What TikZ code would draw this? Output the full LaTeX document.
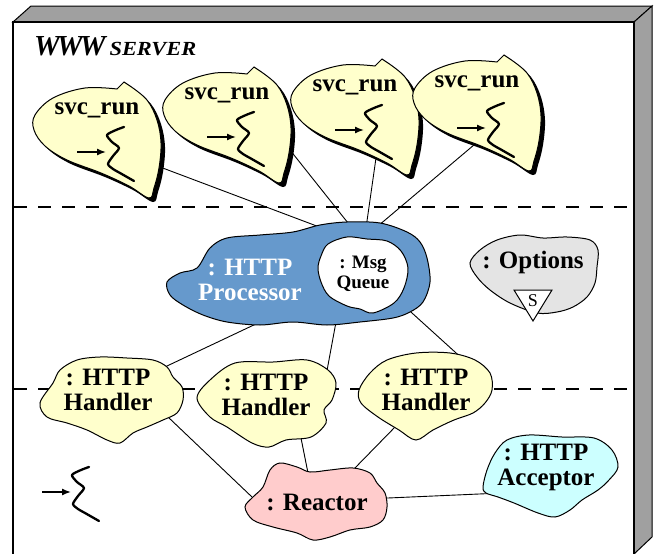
\documentclass[tikz,border=0pt]{standalone}
\usepackage{fontspec}
\setmainfont{Liberation Serif}
\usetikzlibrary{arrows.meta}
\definecolor{cyel}{HTML}{FFFFCC}
\definecolor{cblue}{HTML}{6699CC}
\definecolor{cpink}{HTML}{FFCCCC}
\definecolor{ccyan}{HTML}{CCFFFF}
\definecolor{cgray}{HTML}{E4E4E4}
\definecolor{cface}{HTML}{A0A0A0}
\newcommand\LeafOutline{plot[smooth,tension=0.6] coordinates {(33,-24) (50,-10) (60,10) (64,33) (62,58) (57,78) (52,88) (32,76) (4,63) (-30,50) (-52,36) (-63,20) (-62,5) (-44,-12) (-12,-22) (20,-21)} -- (27,-28) -- cycle}
\tikzset{
  lbl/.style={font=\bfseries\fontsize{25}{25}\selectfont, align=center, inner sep=0pt},
  smalllbl/.style={font=\bfseries\fontsize{19}{20}\selectfont, align=center, inner sep=0pt},
  blob/.style={draw=black, line width=1pt},
  conn/.style={draw=black, line width=0.9pt, shorten <=-8pt, shorten >=-8pt},
  sepline/.style={draw=black, line width=1.8pt, dash pattern=on 13pt off 11pt},
  leafpic/.pic={
    \fill[black, shift={(4,4)}] \LeafOutline;
    \filldraw[fill=cyel, draw=black, line width=1pt] \LeafOutline;
  },
  threadpic/.pic={
    \draw[line width=1.4pt, -{Latex[length=9pt,width=7pt]}] (0,0) -- (29,0);
    \draw[line width=2.3pt, line cap=round, line join=round] plot[smooth, tension=0.45] coordinates {(47,-25) (39,-22) (30,-17) (35,-10) (42,-4) (36,4) (31,12) (36,17) (43,21) (57,29)};
  }
}
\begin{document}
\begin{tikzpicture}[x=1pt,y=-1pt]
\useasboundingbox (0,0) rectangle (657,554);
\clip (0,0) rectangle (657,554);
% frame
\filldraw[fill=cface, draw=black, line width=1pt] (13,22) -- (31,6) -- (652,6) -- (634,22) -- cycle;
\filldraw[fill=cface, draw=black, line width=1pt] (634,22) -- (652,6) -- (652,537) -- (634,554) -- cycle;
\filldraw[fill=white, draw=black, line width=2pt] (13,22) rectangle (634,575);
% title
\node[anchor=base west, inner sep=0pt] (title) at (34,56) {\bfseries\itshape\fontsize{29}{29}\selectfont W\kern-3pt W\kern-3pt W\hspace{4pt}\fontsize{20}{20}\selectfont\scalebox{1.12}[1]{SERVER}};
% dashed separators
\coordinate (dl1) at (14,207); \coordinate (dr1) at (633,207);
\coordinate (dl2) at (14,389); \coordinate (dr2) at (633,389);
\draw[sepline] (dl1) -- (dr1);
\draw[sepline] (dl2) -- (dr2);
% connector ends
\coordinate (s1a) at (160,167); \coordinate (s1b) at (322,228);
\coordinate (s2a) at (290,150); \coordinate (s2b) at (352,228);
\coordinate (s3a) at (375,165); \coordinate (s3b) at (366,228);
\coordinate (s4a) at (468,150); \coordinate (s4b) at (378,226);
\coordinate (h1a) at (167,366); \coordinate (h1b) at (258,323);
\coordinate (h2a) at (326,376); \coordinate (h2b) at (336,322);
\coordinate (h3a) at (455,352); \coordinate (h3b) at (412,313);
\coordinate (r1a) at (168,417); \coordinate (r1b) at (252,497);
\coordinate (r2a) at (298,423); \coordinate (r2b) at (308,473);
\coordinate (r3a) at (397,425); \coordinate (r3b) at (353,470);
\coordinate (raa) at (388,498); \coordinate (rab) at (502,493);
\foreach \a/\b in {s1a/s1b,s2a/s2b,s3a/s3b,s4a/s4b,h1a/h1b,h2a/h2b,h3a/h3b,r1a/r1b,r2a/r2b,r3a/r3b,raa/rab}
  \draw[conn] (\a) -- (\b);
% svc_run clouds
\pic at (97,110) {leafpic};
\pic at (227,95) {leafpic};
\pic at (355,87) {leafpic};
\pic at (477,83) {leafpic};
\pic at (77,152) {threadpic};
\pic at (207,137) {threadpic};
\pic at (335,130) {threadpic};
\pic at (457,128) {threadpic};
\node[lbl] (svc1) at (97,110) {svc\_run};
\node[lbl] (svc2) at (227,95) {svc\_run};
\node[lbl] (svc3) at (355,87) {svc\_run};
\node[lbl] (svc4) at (477,83) {svc\_run};
% processor
\filldraw[blob, fill=cblue] plot[smooth cycle, tension=0.55] coordinates {(167,282) (180,273) (197,268) (210,248) (227,238) (260,235) (293,232) (320,225) (347,222) (380,223) (407,232) (420,242) (427,258) (430,282) (423,302) (410,312) (393,318) (360,322) (327,325) (293,322) (260,325) (227,322) (203,315) (183,305) (170,295)};
\filldraw[blob, fill=white] plot[smooth cycle, tension=0.55] coordinates {(321,256) (328,244) (347,237) (367,239) (387,241) (401,251) (408,268) (404,288) (394,303) (373,313) (360,309) (347,306) (329,296) (321,282) (318,268)};
\node[lbl, text=white] (proc) at (250,280) {: HTTP\\Processor};
\node[smalllbl] (msgq) at (363,274) {: Msg\\Queue};
% options
\filldraw[blob, fill=cgray] plot[smooth cycle, tension=0.55] coordinates {(470,263) (480,250) (497,240) (520,235) (543,238) (567,237) (590,240) (598,250) (597,267) (595,283) (587,297) (573,307) (557,312) (537,313) (510,303) (490,290) (477,277)};
\node[lbl, anchor=base] (opts) at (533,268) {: Options};
\filldraw[fill=white, draw=black, line width=1pt] (514,290) -- (552,290) -- (533,321) -- cycle;
\node[inner sep=0pt, font=\fontsize{18}{18}\selectfont] (sing) at (533,301) {S};
% handlers
\filldraw[blob, fill=cyel] plot[smooth cycle, tension=0.55] coordinates {(40,403) (53,383) (60,370) (77,360) (100,357) (127,358) (153,360) (167,367) (173,377) (182,387) (183,400) (177,413) (163,420) (147,427) (133,433) (120,443) (107,440) (87,430) (67,423) (47,417)};
\filldraw[blob, fill=cyel] plot[smooth cycle, tension=0.55] coordinates {(197,398) (210,380) (235,363) (273,362) (307,360) (328,370) (336,383) (332,400) (324,410) (326,423) (311,437) (286,440) (269,447) (252,443) (227,427) (210,417)};
\filldraw[blob, fill=cyel] plot[smooth cycle, tension=0.55] coordinates {(359,390) (370,373) (387,360) (416,353) (450,353) (475,360) (490,373) (492,390) (485,403) (473,413) (454,420) (433,430) (416,440) (399,430) (378,417) (361,403)};
\node[lbl] (h1) at (108,390) {: HTTP\\Handler};
\node[lbl] (h2) at (266,395) {: HTTP\\Handler};
\node[lbl] (h3) at (426,390) {: HTTP\\Handler};
% reactor
\filldraw[blob, fill=cpink] plot[smooth cycle, tension=0.55] coordinates {(245,507) (253,497) (263,487) (270,470) (280,463) (297,467) (310,472) (330,470) (353,468) (370,473) (377,483) (385,493) (387,507) (383,520) (370,527) (350,530) (330,537) (313,540) (297,533) (273,527) (253,520)};
\node[lbl] (reactor) at (317,502) {: Reactor};
% acceptor
\filldraw[blob, fill=ccyan] plot[smooth cycle, tension=0.55] coordinates {(483,487) (487,470) (495,453) (507,440) (529,435) (562,437) (594,438) (612,450) (618,467) (609,480) (598,490) (582,500) (570,510) (555,517) (538,513) (514,503) (498,497) (486,493)};
\node[lbl] (acceptor) at (546,467) {: HTTP\\Acceptor};
% legend thread
\pic at (42,492) {threadpic};
\end{tikzpicture}
\end{document}
